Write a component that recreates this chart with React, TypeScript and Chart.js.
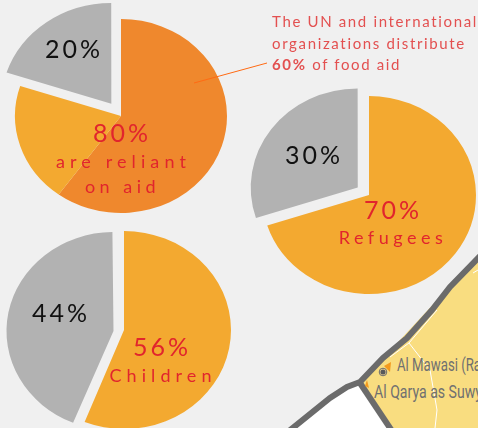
import React, { useEffect, useRef } from "react";
import { Chart, registerables } from "chart.js";

Chart.register(...registerables);

const PAGE_BG = "#f0f0f0";
const AMBER = "#f3a930";
const ORANGE = "#ef882d";
const GREY = "#b2b2b2";
const RED = "#e1252d";
const CALLOUT = "#e35050";

const aidCategories = ["UN and international organizations", "Other reliant on aid", "Not reliant on aid"];
const aidValues = [60, 20, 20];
const aidColors = [ORANGE, AMBER, GREY];

const refugeeCategories = ["Refugees", "Non-refugees"];
const refugeeValues = [70, 30];
const refugeeColors = [AMBER, GREY];

const childCategories = ["Children", "Adults"];
const childValues = [56, 44];
const childColors = [AMBER, GREY];

const SIZE = 270;
const BASE_R = 100;

function ellipsePlugin(sx: number, sy: number, explode: number, greyGrow: number, nudgeY: number) {
  return {
    id: "ellipse",
    afterDatasetsUpdate(chart: any) {
      // Chart.js widens narrow exploded slices; keep the exploded slice at its own radius.
      chart.getDatasetMeta(0).data.forEach((arc: any, i: number) => {
        if (chart.data.datasets[0].backgroundColor[i] !== GREY) return;
        const fix = 1 - Math.sin(Math.min(Math.PI, arc.circumference));
        arc.outerRadius = BASE_R * greyGrow - explode * fix;
        arc.y += nudgeY;
      });
    },
    beforeDatasetsDraw(chart: any) {
      const ctx = chart.ctx;
      ctx.save();
      ctx.translate(SIZE / 2, SIZE / 2);
      ctx.scale(sx, sy);
      ctx.translate(-SIZE / 2, -SIZE / 2);
    },
    afterDatasetsDraw(chart: any) {
      chart.ctx.restore();
    },
  };
}

function Pie({ cx, cy, rx, ry, labels, values, colors, label, explode, greyGrow = 1, nudgeY = 0 }: any) {
  const ref = useRef<HTMLCanvasElement>(null);
  useEffect(() => {
    const offsets = colors.map((c: string) => (c === GREY ? explode * 4 : 0));
    const chart = new Chart(ref.current!, {
      type: "pie",
      data: {
        labels,
        datasets: [
          {
            label,
            data: values,
            backgroundColor: colors,
            borderWidth: 0,
            offset: offsets,
            radius: BASE_R,
          } as any,
        ],
      },
      options: {
        responsive: false,
        animation: false,
        layout: { padding: 0 },
        plugins: { legend: { display: false }, tooltip: { enabled: false } },
      },
      plugins: [ellipsePlugin(rx / BASE_R, ry / BASE_R, explode, greyGrow, nudgeY)],
    });
    return () => chart.destroy();
  }, []);
  return (
    <canvas
      ref={ref}
      width={SIZE}
      height={SIZE}
      style={{ position: "absolute", left: cx - SIZE / 2, top: cy - SIZE / 2, width: SIZE, height: SIZE }}
    />
  );
}

function Label({ x, y, text, size, color, spacing }: any) {
  return (
    <div
      style={{
        position: "absolute",
        left: x,
        top: y,
        transform: "translateX(-50%)",
        font: `${size}px/1 Lato, sans-serif`,
        letterSpacing: spacing,
        color,
        whiteSpace: "nowrap",
      }}
    >
      {text}
    </div>
  );
}

function MapPatch() {
  const grey = "#6b6b6b";
  return (
    <svg width={478} height={428} style={{ position: "absolute", left: 0, top: 0 }}>
      <polygon points="360,383 478,256 478,428 390,428" fill="#f9dd80" />
      <polygon points="293,428 347,387 360,383 390,428" fill="#ffffff" />
      <polyline points="409,343 430,370 437,410 435,428" fill="none" stroke="#ffffff" strokeWidth={1} />
      <polyline points="437,310 409,343 390,357" fill="none" stroke="#ffffff" strokeWidth={1} />
      <polyline points="478,270 473,273" fill="none" stroke="#ffffff" strokeWidth={1} />
      <polyline points="289,431 330,398 347,387 360,382 383,358 407,338 432,310 450,287 480,256" fill="none" stroke={grey} strokeWidth={6} />
      <polyline points="360,383 392,431" fill="none" stroke={grey} strokeWidth={6} />
      <polygon points="384,366 391,362 390,372" fill="#f39a1e" />
      <polygon points="367,380 369,388 365,386" fill="#f39a1e" />
      <circle cx={383} cy={372} r={3.8} fill="#fadf9a" stroke="#6b6b6b" strokeWidth={1} />
      <circle cx={383} cy={372} r={2.6} fill="#58595b" />
      <text x={397} y={371} fontFamily="Roboto, sans-serif" fontSize={18} fill="#707070" textLength={84} lengthAdjust="spacingAndGlyphs">Al Mawasi (Ra</text>
      <text x={374} y={398} fontFamily="Roboto, sans-serif" fontSize={18} fill="#707070" textLength={108} lengthAdjust="spacingAndGlyphs">Al Qarya as Suwy</text>
    </svg>
  );
}

export default function App() {
  useEffect(() => {
    document.body.style.margin = "0";
    document.body.style.background = PAGE_BG;
    document.body.style.overflow = "hidden";
  }, []);
  return (
    <div style={{ position: "relative", width: 478, height: 428, overflow: "hidden", background: PAGE_BG }}>
      <MapPatch />
      <Pie cx={120.5} cy={116} rx={106} ry={97} labels={aidCategories} values={aidValues} colors={aidColors} label="Reliant on aid" explode={15.5} greyGrow={1.04} />
      <Pie cx={369} cy={195} rx={107} ry={99} labels={refugeeCategories} values={refugeeValues} colors={refugeeColors} label="Refugees" explode={13} />
      <Pie cx={124} cy={330} rx={107} ry={99} labels={childCategories} values={childValues} colors={childColors} label="Children" explode={10} nudgeY={3} />
      <svg width={478} height={428} style={{ position: "absolute", left: 0, top: 0 }}>
        <line x1={194} y1={83} x2={267} y2={63} stroke="#ff6a13" strokeWidth={1} />
      </svg>
      <Label x={122} y={120} text="80%" size={25} color={RED} spacing="3px" />
      <Label x={123.5} y={152} text="are reliant" size={18} color={RED} spacing="5.1px" />
      <Label x={122.5} y={177} text="on aid" size={18} color={RED} spacing="4.5px" />
      <Label x={74} y={36} text="20%" size={25} color="#111" spacing="3px" />
      <Label x={393} y={197} text="70%" size={25} color={RED} spacing="3px" />
      <Label x={393} y={228} text="Refugees" size={18} color={RED} spacing="4.5px" />
      <Label x={314} y={142} text="30%" size={25} color="#111" spacing="3px" />
      <Label x={162} y={334} text="56%" size={25} color={RED} spacing="3px" />
      <Label x={163} y={366} text="Children" size={18} color={RED} spacing="5.1px" />
      <Label x={61} y={300} text="44%" size={25} color="#111" spacing="3px" />
      <div style={{ position: "absolute", left: 272, top: 11, font: "15px/21.5px Lato, sans-serif", letterSpacing: "1.65px", color: CALLOUT, whiteSpace: "nowrap" }}>
        The UN and international<br />
        organizations distribute<br />
        <b>60%</b> of food aid
      </div>
    </div>
  );
}
